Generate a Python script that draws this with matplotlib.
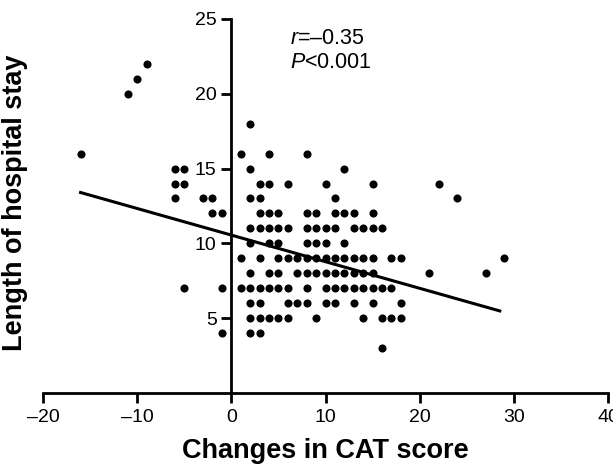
import matplotlib
matplotlib.use("Agg")
import matplotlib.pyplot as plt

plt.rcParams['font.family'] = ['Liberation Sans', 'DejaVu Sans']
plt.rcParams['mathtext.fontset'] = 'custom'
plt.rcParams['mathtext.rm'] = 'Liberation Sans'
plt.rcParams['mathtext.it'] = 'Liberation Sans:italic'

# points per length-of-stay value: (y, list of CAT score changes)
rows = {
    22: [-9],
    21: [-10],
    20: [-11],
    18: [2],
    16: [-16, 1, 4, 8],
    15: [-6, -5, 2, 12],
    14: [-6, -5, 3, 4, 6, 10, 15, 22],
    13: [-6, -3, -2, 2, 3, 11, 24],
    12: [-2, -1, 3, 4, 5, 8, 9, 11, 12, 13, 15],
    11: [2, 3, 4, 5, 6, 8, 9, 10, 11, 13, 14, 15, 16],
    10: [2, 4, 5, 8, 9, 10, 12],
    9: [1, 3, 5, 6, 7, 8, 9, 10, 11, 12, 13, 14, 15, 17, 18, 29],
    8: [2, 4, 5, 7, 8, 9, 10, 11, 12, 13, 14, 15, 21, 27],
    7: [-5, -1, 1, 2, 3, 4, 5, 6, 8, 10, 11, 12, 13, 14, 15, 16, 17],
    6: [2, 3, 6, 7, 8, 10, 11, 13, 15, 18],
    5: [2, 3, 4, 5, 6, 9, 14, 16, 17, 18],
    4: [-1, 2, 3],
    3: [16],
}
cat_change = [x for y, xs in rows.items() for x in xs]
stay = [y for y, xs in rows.items() for x in xs]

# regression line end points
line_x = [-16, 28.5]
line_y = [13.4, 5.5]

fig = plt.figure(figsize=(6.13, 4.65), dpi=100)
ax = fig.add_axes([0.070, 0.154, 0.922, 0.806])

ax.scatter(cat_change, stay, s=34, color='black', zorder=3, linewidths=0)
ax.plot(line_x, line_y, color='black', lw=2.2, zorder=2)

ax.set_xlim(-20, 40)
ax.set_ylim(0, 25)
ax.set_xticks([-20, -10, 0, 10, 20, 30, 40])
ax.set_xticklabels(['\u201320', '\u201310', '0', '10', '20', '30', '40'])
ax.set_yticks([5, 10, 15, 20, 25])

ax.spines['left'].set_position(('data', 0))
ax.spines['right'].set_visible(False)
ax.spines['top'].set_visible(False)
ax.spines['left'].set_linewidth(2)
ax.spines['bottom'].set_linewidth(2)
ax.tick_params(axis='both', direction='out', width=2, length=7, labelsize=14)
ax.tick_params(axis='x', pad=4)

ax.set_xlabel('Changes in CAT score', fontsize=19.5, fontweight='bold', labelpad=9)
fig.text(0.024, 0.565, 'Length of hospital stay', rotation=90, fontsize=19.5,
         fontweight='bold', ha='center', va='center')

ax.text(6.2, 23.65, '$\\it{r}$=\u20130.35', fontsize=15.5, va='center')
ax.text(6.2, 22.05, '$\\it{P}$<0.001', fontsize=15.5, va='center')

fig.savefig('out.png', dpi=100)
